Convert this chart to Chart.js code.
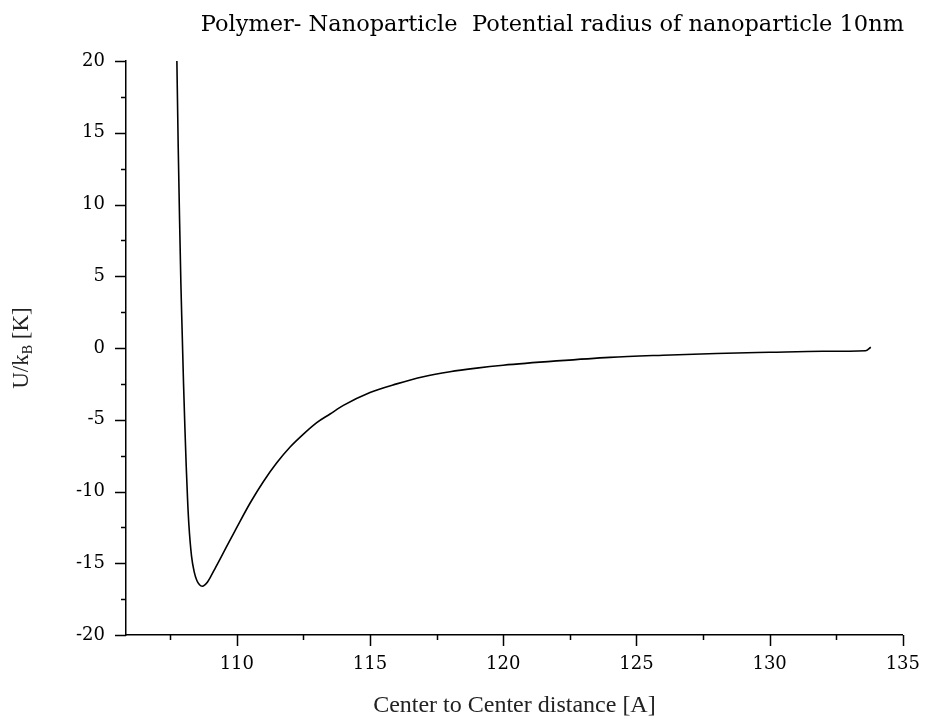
<!DOCTYPE html>
<html>
<head>
<meta charset="utf-8">
<script src="https://cdn.jsdelivr.net/npm/chart.js@4"></script>
<style>
    body { margin: 0; background: #fff; }
    #wrap { width: 928px; height: 722px; }
</style>
</head>
<body>
<div id="wrap"><canvas id="chartCanvas" width="928" height="722"></canvas></div>
<script>
const distance = [107.75, 107.8, 107.85, 107.9, 107.95, 108.0, 108.05, 108.1, 108.15, 108.2, 108.3, 108.4, 108.5, 108.6, 108.7, 108.8, 108.9, 109.0, 109.2, 109.4, 109.6, 109.8, 110.0, 110.5, 111.0, 111.5, 112.0, 112.5, 113.0, 113.5, 114.0, 115.0, 116.0, 117.0, 118.0, 119.0, 120.0, 122.0, 124.0, 126.0, 128.0, 130.0, 132.0, 133.6, 133.8];
const potential = [20, 14, 9, 4.5, 1, -2.5, -5.5, -8.2, -10.5, -12.3, -14.5, -15.6, -16.2, -16.5, -16.6, -16.5, -16.3, -16.0, -15.3, -14.6, -13.9, -13.2, -12.5, -10.8, -9.3, -8.0, -6.9, -6.0, -5.2, -4.6, -4.0, -3.1, -2.5, -2.0, -1.65, -1.4, -1.2, -0.9, -0.65, -0.5, -0.38, -0.3, -0.23, -0.19, 0.05];

const xTicks = [107.5, 110, 112.5, 115, 117.5, 120, 122.5, 125, 127.5, 130, 132.5, 135];
const yTicks = [-20, -17.5, -15, -12.5, -10, -7.5, -5, -2.5, 0, 2.5, 5, 7.5, 10, 12.5, 15, 17.5, 20];

const tickFont = { family: "DejaVu Serif", size: 18 };

// outward ticks, long on labelled values, short in between
const tickMarks = {
    id: "tickMarks",
    afterDraw(chart) {
        const ctx = chart.ctx;
        const x = chart.scales.x;
        const y = chart.scales.y;
        ctx.save();
        ctx.strokeStyle = "#000";
        ctx.lineWidth = 1.5;
        ctx.beginPath();
        xTicks.forEach(v => {
            const px = Math.round(x.getPixelForValue(v)) + 0.5;
            const len = v % 5 === 0 ? 11 : 5;
            ctx.moveTo(px, chart.chartArea.bottom);
            ctx.lineTo(px, chart.chartArea.bottom + len);
        });
        yTicks.forEach(v => {
            const py = Math.round(y.getPixelForValue(v)) + 0.5;
            const len = v % 5 === 0 ? 11 : 5;
            ctx.moveTo(chart.chartArea.left, py);
            ctx.lineTo(chart.chartArea.left - len, py);
        });
        ctx.stroke();

        // y title with subscript B
        ctx.fillStyle = "#222";
        ctx.translate(20, (chart.chartArea.top + chart.chartArea.bottom) / 2);
        ctx.rotate(-Math.PI / 2);
        ctx.textBaseline = "alphabetic";
        const main = "23px 'Liberation Serif'";
        const sub = "14px 'Liberation Serif'";
        ctx.font = main;
        const w1 = ctx.measureText("U/k").width;
        const w3 = ctx.measureText(" [K]").width;
        ctx.font = sub;
        const w2 = ctx.measureText("B").width;
        let start = -(w1 + w2 + w3) / 2;
        ctx.font = main;
        ctx.fillText("U/k", start, 8);
        ctx.font = sub;
        ctx.fillText("B", start + w1, 12);
        ctx.font = main;
        ctx.fillText(" [K]", start + w1 + w2, 8);
        ctx.restore();
    }
};

new Chart(chartCanvas, {
    type: "line",
    data: {
        datasets: [{
            data: distance.map((d, i) => ({ x: d, y: potential[i] })),
            borderColor: "#000",
            borderWidth: 1.6,
            pointRadius: 0,
            fill: false,
            cubicInterpolationMode: "monotone"
        }]
    },
    options: {
        responsive: false,
        animation: false,
        layout: { padding: { left: 0, right: 24, top: 0, bottom: 0 } },
        plugins: {
            legend: { display: false },
            tooltip: { enabled: false },
            title: {
                display: true,
                text: "Polymer- Nanoparticle  Potential radius of nanoparticle 10nm",
                align: "end",
                color: "#000",
                font: { family: "DejaVu Serif", size: 22.5, weight: "normal", lineHeight: 1.2 },
                padding: { top: 12, bottom: 22 }
            }
        },
        scales: {
            x: {
                type: "linear",
                min: 105.84,
                max: 135,
                afterBuildTicks: s => { s.ticks = xTicks.map(v => ({ value: v })); },
                afterFit: s => { s.height = 87; },
                grid: { drawOnChartArea: false, tickLength: 11, color: "rgba(0,0,0,0)" },
                border: { color: "#000", width: 1.5 },
                ticks: {
                    color: "#000",
                    font: tickFont,
                    padding: 8,
                    maxRotation: 0,
                    autoSkip: false,
                    callback: v => v % 5 === 0 ? v : ""
                },
                title: {
                    display: true,
                    text: "Center to Center distance [A]",
                    color: "#222",
                    font: { family: "Liberation Serif", size: 24, lineHeight: 1.15 },
                    padding: { top: 4, bottom: 2 }
                }
            },
            y: {
                min: -20,
                max: 20,
                afterBuildTicks: s => { s.ticks = yTicks.map(v => ({ value: v })); },
                afterFit: s => { s.width = 126; },
                grid: { drawOnChartArea: false, tickLength: 11, color: "rgba(0,0,0,0)" },
                border: { color: "#000", width: 1.5 },
                ticks: {
                    color: "#000",
                    font: tickFont,
                    padding: 10,
                    autoSkip: false,
                    callback: v => v % 5 === 0 ? v : ""
                }
            }
        }
    },
    plugins: [tickMarks]
});
</script>
</body>
</html>
